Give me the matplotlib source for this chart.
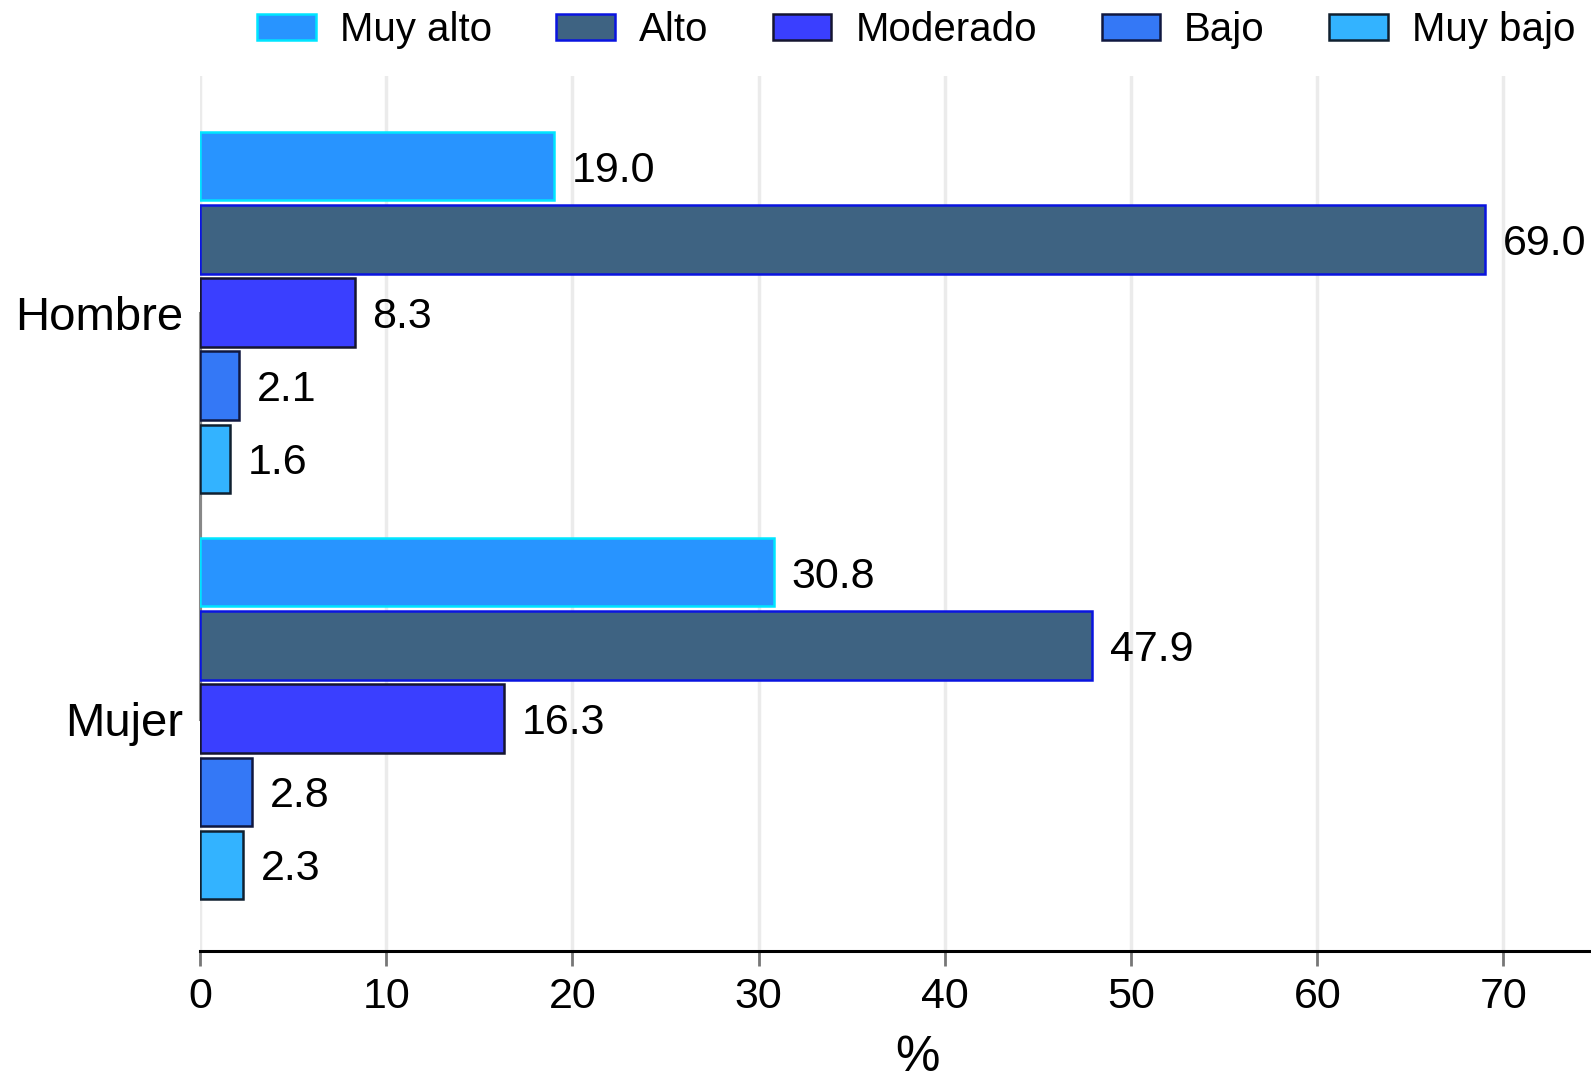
import matplotlib
matplotlib.use("Agg")
import matplotlib.pyplot as plt
import matplotlib.patches as mpatches
import numpy as np

plt.rcParams['font.family'] = ['Liberation Sans', 'DejaVu Sans']

# --- Data ---
groups = ["Hombre", "Mujer"]
levels = ["Muy alto", "Alto", "Moderado", "Bajo", "Muy bajo"]
hombre = [19.0, 69.0, 8.3, 2.1, 1.6]
mujer = [30.8, 47.9, 16.3, 2.8, 2.3]

# --- Styles ---
fills = ['#2894FF', '#3E6382', '#3A3FFF', '#3478F6', '#33B3FF']
edges = ['#00E5FF', '#0A14E0', '#151530', '#101840', '#102030']

fig = plt.figure(figsize=(15.91, 10.85), dpi=100)
ax = fig.add_axes([200 / 1591, 1 - 951 / 1085, 1391 / 1591, (951 - 76) / 1085])

group_pos = [1, 0]
step = 0.18
bar_h = 0.168
values = [hombre, mujer]

for gpos, vals in zip(group_pos, values):
    for i, v in enumerate(vals):
        y = gpos + (2 - i) * step
        ax.barh(y, v, height=bar_h, color=fills[i], edgecolor=edges[i],
                linewidth=1.8, zorder=3)
        ax.annotate(f'{v:.1f}', xy=(v, y), xytext=(13, 0), textcoords='offset points',
                    va='center_baseline', ha='left', fontsize=31, zorder=4)

ax.set_xlim(0, 74.7)
ax.set_ylim(-0.5725, 1.5825)
ax.set_xticks(np.arange(0, 71, 10))
ax.set_yticks(group_pos)
ax.set_yticklabels(groups, fontsize=34)
ax.tick_params(axis='y', length=0, pad=12)
ax.tick_params(axis='x', labelsize=31, length=11, width=2, color='#777777', pad=8)
ax.xaxis.grid(True, color='#ebebeb', linewidth=2.5, zorder=0)
ax.set_axisbelow(True)

for s in ['top', 'right']:
    ax.spines[s].set_visible(False)
ax.spines['bottom'].set_linewidth(2.2)
ax.spines['bottom'].set_color('black')
ax.spines['left'].set_color('#888888')
ax.spines['left'].set_linewidth(2.2)
ax.spines['left'].set_bounds(0, 1)

ax.set_xlabel('%', fontsize=36)
ax.xaxis.set_label_coords(0.516, -0.096)

handles = [mpatches.Patch(facecolor=f, edgecolor=e, linewidth=1.8, label=l)
           for f, e, l in zip(fills, edges, levels)]
fig.legend(handles=handles, loc='upper center', bbox_to_anchor=(0.576, 1.023), ncol=5,
           frameon=False, fontsize=29, handlelength=1.45, handleheight=0.6,
           columnspacing=1.6, handletextpad=0.6)

fig.savefig('out.png', dpi=100)
